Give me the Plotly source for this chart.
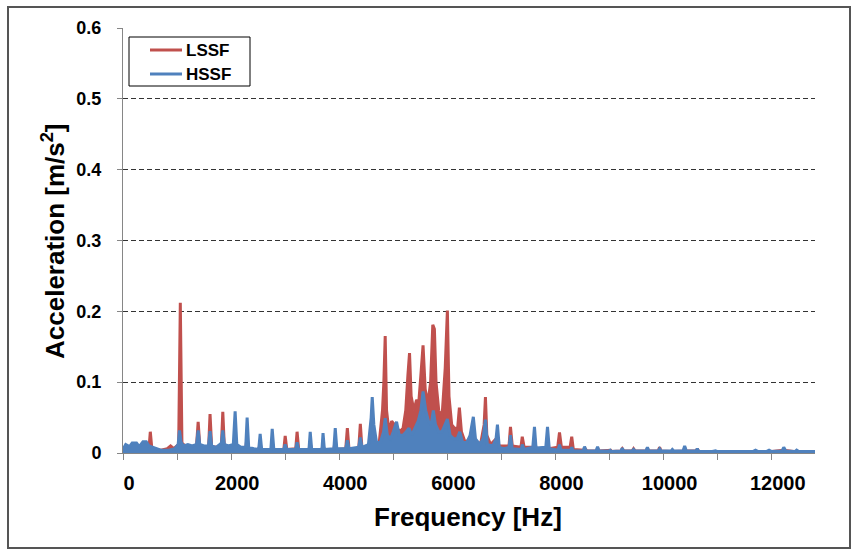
import plotly.graph_objects as go

# ---- data (frequency Hz, acceleration m/s^2) ----
LSSF = [
    (0, 0.004), (150, 0.005), (300, 0.006), (480, 0.005), (505, 0.030), (535, 0.005),
    (700, 0.004), (820, 0.006), (880, 0.010), (940, 0.006), (1030, 0.012), (1060, 0.212), (1090, 0.014),
    (1150, 0.010), (1250, 0.009), (1360, 0.010), (1390, 0.044), (1420, 0.010),
    (1500, 0.008), (1585, 0.010), (1610, 0.055), (1640, 0.009),
    (1760, 0.008), (1820, 0.010), (1846, 0.058), (1875, 0.008),
    (2000, 0.006), (2050, 0.008), (2074, 0.030), (2100, 0.006),
    (2270, 0.005), (2296, 0.025), (2320, 0.005),
    (2510, 0.004), (2537, 0.014), (2560, 0.004),
    (2740, 0.004), (2760, 0.016), (2790, 0.004),
    (2975, 0.005), (3000, 0.024), (3030, 0.005),
    (3195, 0.006), (3220, 0.030), (3250, 0.005),
    (3440, 0.004), (3463, 0.014), (3490, 0.004),
    (3680, 0.004), (3700, 0.014), (3720, 0.004),
    (3900, 0.005), (3926, 0.018), (3950, 0.005),
    (4120, 0.006), (4150, 0.035), (4180, 0.006),
    (4360, 0.006), (4390, 0.041), (4420, 0.007),
    (4580, 0.010), (4610, 0.030), (4640, 0.010),
    (4740, 0.015), (4800, 0.060), (4825, 0.100), (4850, 0.165), (4875, 0.060), (4920, 0.030),
    (4970, 0.045), (5020, 0.040), (5070, 0.035), (5120, 0.030), (5180, 0.035),
    (5230, 0.060), (5270, 0.110), (5300, 0.141), (5330, 0.080), (5380, 0.060), (5430, 0.075), (5470, 0.070),
    (5510, 0.110), (5550, 0.152), (5590, 0.090), (5640, 0.070), (5690, 0.100),
    (5730, 0.181), (5760, 0.175), (5790, 0.100), (5840, 0.060), (5900, 0.050), (5960, 0.120),
    (6000, 0.201), (6030, 0.080), (6080, 0.040), (6130, 0.035), (6190, 0.035),
    (6222, 0.064), (6260, 0.030), (6330, 0.015), (6420, 0.020), (6480, 0.030), (6530, 0.012),
    (6620, 0.015), (6680, 0.040), (6704, 0.079), (6730, 0.025), (6800, 0.012), (6900, 0.020), (6960, 0.010),
    (7140, 0.010), (7167, 0.037), (7200, 0.010),
    (7360, 0.008), (7385, 0.023), (7420, 0.008),
    (7590, 0.008), (7611, 0.022), (7640, 0.006),
    (7830, 0.006), (7852, 0.020), (7880, 0.006),
    (8040, 0.008), (8074, 0.029), (8110, 0.008),
    (8270, 0.008), (8300, 0.023), (8330, 0.005),
    (8530, 0.004), (8550, 0.006), (8580, 0.003),
    (8760, 0.003), (8780, 0.007), (8800, 0.003),
    (9000, 0.003), (9020, 0.004), (9040, 0.002),
    (9210, 0.003), (9235, 0.006), (9260, 0.003),
    (9420, 0.003), (9444, 0.006), (9470, 0.003),
    (9680, 0.003), (9700, 0.007), (9720, 0.003),
    (9900, 0.003), (9926, 0.008), (9950, 0.003),
    (10140, 0.002), (10161, 0.004), (10180, 0.002),
    (10370, 0.003), (10389, 0.008), (10410, 0.003),
    (10600, 0.003), (10624, 0.006), (10650, 0.002),
    (11000, 0.002), (11500, 0.002), (12000, 0.002), (12222, 0.004), (12400, 0.002), (12815, 0.002),
]

HSSF = [
    (0, 0.005), (50, 0.012), (120, 0.009), (170, 0.014), (250, 0.014), (300, 0.009), (370, 0.016),
    (430, 0.016), (480, 0.010), (560, 0.008),
    (700, 0.004), (850, 0.004), (960, 0.006), (1020, 0.012), (1045, 0.032), (1075, 0.015), (1120, 0.010),
    (1200, 0.012), (1280, 0.010),
    (1360, 0.012), (1390, 0.032), (1420, 0.012), (1500, 0.010),
    (1580, 0.010), (1610, 0.031), (1640, 0.010), (1720, 0.008),
    (1790, 0.012), (1820, 0.014), (1846, 0.032), (1875, 0.012), (1950, 0.010),
    (2040, 0.012), (2074, 0.059), (2105, 0.012), (2180, 0.008),
    (2270, 0.008), (2296, 0.050), (2325, 0.008), (2420, 0.006),
    (2510, 0.005), (2537, 0.027), (2565, 0.005),
    (2735, 0.005), (2760, 0.034), (2790, 0.005),
    (2975, 0.005), (3000, 0.012), (3030, 0.005),
    (3195, 0.005), (3220, 0.015), (3250, 0.005),
    (3440, 0.005), (3463, 0.030), (3490, 0.005),
    (3680, 0.005), (3700, 0.028), (3725, 0.005),
    (3900, 0.006), (3926, 0.035), (3955, 0.006),
    (4120, 0.006), (4150, 0.018), (4180, 0.006),
    (4360, 0.008), (4390, 0.022), (4420, 0.008),
    (4540, 0.012), (4590, 0.050), (4610, 0.079), (4640, 0.040), (4690, 0.015),
    (4760, 0.015), (4820, 0.030), (4850, 0.049), (4890, 0.025), (4950, 0.020),
    (5000, 0.030), (5060, 0.044), (5110, 0.025), (5180, 0.025), (5240, 0.030), (5290, 0.035), (5340, 0.025),
    (5400, 0.035), (5460, 0.045), (5510, 0.060), (5550, 0.087), (5600, 0.060), (5650, 0.045), (5700, 0.040),
    (5740, 0.060), (5780, 0.040), (5840, 0.030), (5900, 0.030), (5960, 0.040), (6000, 0.048), (6050, 0.025),
    (6120, 0.020), (6180, 0.020), (6230, 0.030), (6280, 0.015), (6360, 0.015), (6420, 0.025),
    (6480, 0.051), (6520, 0.020), (6600, 0.012), (6660, 0.020), (6704, 0.047), (6740, 0.012),
    (6840, 0.010), (6900, 0.020), (6926, 0.040), (6960, 0.008),
    (7050, 0.006), (7140, 0.008), (7167, 0.025), (7200, 0.006),
    (7370, 0.005), (7385, 0.012), (7420, 0.005),
    (7580, 0.008), (7611, 0.037), (7640, 0.007),
    (7820, 0.008), (7852, 0.037), (7885, 0.006),
    (8050, 0.004), (8074, 0.012), (8100, 0.004),
    (8280, 0.004), (8300, 0.008), (8330, 0.003),
    (8510, 0.003), (8537, 0.009), (8565, 0.003),
    (8750, 0.003), (8778, 0.009), (8805, 0.003),
    (8990, 0.003), (9010, 0.004), (9030, 0.002),
    (9210, 0.003), (9235, 0.007), (9260, 0.003),
    (9420, 0.003), (9444, 0.005), (9470, 0.003),
    (9675, 0.003), (9700, 0.008), (9725, 0.003),
    (9900, 0.003), (9926, 0.006), (9950, 0.003),
    (10140, 0.003), (10161, 0.005), (10185, 0.003),
    (10360, 0.003), (10389, 0.010), (10420, 0.003),
    (10600, 0.003), (10624, 0.006), (10650, 0.002),
    (10900, 0.002), (10960, 0.003), (11000, 0.002),
    (11150, 0.002), (11200, 0.003), (11250, 0.002),
    (11400, 0.002), (11450, 0.003), (11500, 0.002),
    (11650, 0.002), (11700, 0.004), (11750, 0.002),
    (11900, 0.002), (11950, 0.004), (12000, 0.002),
    (12190, 0.003), (12222, 0.008), (12260, 0.003),
    (12430, 0.002), (12460, 0.004), (12500, 0.002),
    (12815, 0.002),
]

SERIES_NAMES = ["LSSF", "HSSF"]
X_TICKS = [0, 2000, 4000, 6000, 8000, 10000, 12000]
X_TICK_TEXT = ["0", "2000", "4000", "6000", "8000", "10000", "12000"]
Y_TICKS = [0, 0.1, 0.2, 0.3, 0.4, 0.5, 0.6]
Y_TICK_TEXT = ["0", "0.1", "0.2", "0.3", "0.4", "0.5", "0.6"]

lssf_hz, lssf_acc = zip(*LSSF)
hssf_hz, hssf_acc = zip(*HSSF)

FONT = "Liberation Sans"
RED = "#C0504D"
BLUE = "#4F81BD"
AXIS_GREY = "#868686"
COLORS = [RED, BLUE]

fig = go.Figure()
fig.add_trace(go.Scatter(x=lssf_hz, y=lssf_acc, mode="lines", name=SERIES_NAMES[0],
                         line=dict(color=RED, width=3), fill="tozeroy", fillcolor=RED,
                         showlegend=False))
fig.add_trace(go.Scatter(x=hssf_hz, y=hssf_acc, mode="lines", name=SERIES_NAMES[1],
                         line=dict(color=BLUE, width=3), fill="tozeroy", fillcolor=BLUE,
                         showlegend=False))

L, R, T, B = 123, 38, 28, 100
W, H = 853, 553
pw, ph = W - L - R, H - T - B


def px(x):
    return (x - L) / pw


def py(y):
    return (H - B - y) / ph


shapes = [
    # chart outer frame
    dict(type="rect", xref="paper", yref="paper",
         x0=px(8), x1=px(850), y0=py(548), y1=py(7),
         line=dict(color="#555555", width=2), fillcolor="rgba(0,0,0,0)", layer="below"),
    # legend box
    dict(type="rect", xref="paper", yref="paper",
         x0=px(129), x1=px(250), y0=py(86), y1=py(37),
         line=dict(color="black", width=1), fillcolor="white", layer="above"),
]
annotations = [
    dict(text="Frequency [Hz]", xref="paper", yref="paper", x=px(468), y=py(517),
         xanchor="center", yanchor="middle", showarrow=False,
         font=dict(family=FONT, size=26, color="black", weight="bold")),
    dict(text="Acceleration [m/s<sup>2</sup>]", xref="paper", yref="paper",
         x=px(53), y=py(241), textangle=-90,
         xanchor="center", yanchor="middle", showarrow=False,
         font=dict(family=FONT, size=26, color="black", weight="bold")),
]
for i, (name, col) in enumerate(zip(SERIES_NAMES, COLORS)):
    yy = 50 + 24 * i
    shapes.append(dict(type="line", xref="paper", yref="paper",
                       x0=px(150), x1=px(182), y0=py(yy), y1=py(yy),
                       line=dict(color=col, width=3), layer="above"))
    annotations.append(dict(text=name, xref="paper", yref="paper", x=px(184), y=py(yy),
                            xanchor="left", yanchor="middle", showarrow=False,
                            font=dict(family=FONT, size=17, color="black", weight="bold")))

fig.update_layout(
    width=W, height=H,
    margin=dict(l=L, r=R, t=T, b=B, pad=0),
    paper_bgcolor="white", plot_bgcolor="white",
    font=dict(family=FONT, color="black"),
    showlegend=False,
    xaxis=dict(range=[0, 12800], tickmode="array", tickvals=X_TICKS, ticktext=X_TICK_TEXT,
               ticks="outside", ticklen=6, tickcolor=AXIS_GREY, tickwidth=1,
               minor=dict(tickmode="linear", tick0=0, dtick=1000, ticks="outside",
                          ticklen=6, tickcolor=AXIS_GREY, tickwidth=1, showgrid=False),
               showline=True, linecolor=AXIS_GREY, linewidth=1,
               showgrid=False, zeroline=False,
               tickfont=dict(family=FONT, size=20, color="black", weight="bold"),
               ticklabelshift=6, ticklabelstandoff=6),
    yaxis=dict(range=[0, 0.6], tickmode="array", tickvals=Y_TICKS, ticktext=Y_TICK_TEXT,
               ticks="outside", ticklen=5, tickcolor=AXIS_GREY, tickwidth=1,
               showline=True, linecolor=AXIS_GREY, linewidth=1,
               showgrid=True, gridcolor="#333333", gridwidth=1, griddash="5px,3px",
               zeroline=False,
               tickfont=dict(family=FONT, size=18, color="black", weight="bold"),
               ticklabelstandoff=12),
    annotations=annotations,
    shapes=shapes,
)

fig.write_html("out.html")
